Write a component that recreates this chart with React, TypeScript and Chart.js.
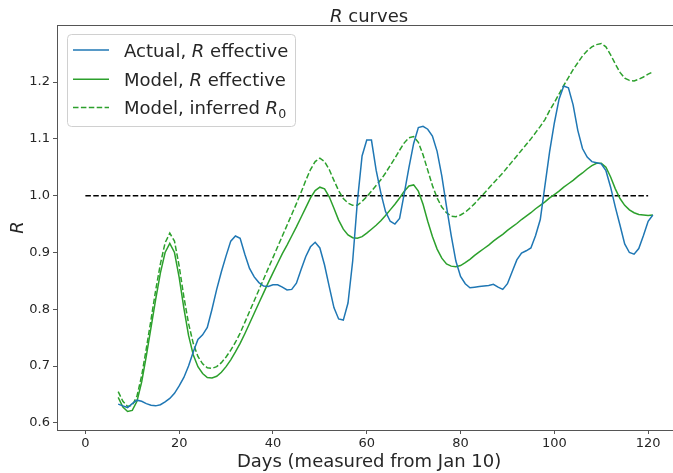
import React, { useEffect, useRef } from 'react';
import { Chart, registerables } from 'chart.js';

Chart.register(...registerables);

const FONT = '"DejaVu Sans", "Liberation Sans", sans-serif';

const days = [
  7, 8, 9, 10, 11, 12, 13, 14, 15, 16, 17, 18, 19, 20, 21, 22, 23, 24, 25, 26,
  27, 28, 29, 30, 31, 32, 33, 34, 35, 36, 37, 38, 39, 40, 41, 42, 43, 44, 45, 46,
  47, 48, 49, 50, 51, 52, 53, 54, 55, 56, 57, 58, 59, 60, 61, 62, 63, 64, 65, 66,
  67, 68, 69, 70, 71, 72, 73, 74, 75, 76, 77, 78, 79, 80, 81, 82, 83, 84, 85, 86,
  87, 88, 89, 90, 91, 92, 93, 94, 95, 96, 97, 98, 99, 100, 101, 102, 103, 104, 105, 106,
  107, 108, 109, 110, 111, 112, 113, 114, 115, 116, 117, 118, 119, 120, 121,
];

const actualR = [
  0.633, 0.630, 0.627, 0.634, 0.640, 0.638, 0.634, 0.631, 0.630, 0.632, 0.637, 0.643, 0.652, 0.665, 0.680, 0.700, 0.725, 0.747, 0.755, 0.768,
  0.800, 0.835, 0.866, 0.894, 0.920, 0.929, 0.925, 0.897, 0.872, 0.857, 0.847, 0.841, 0.840, 0.843, 0.843, 0.839, 0.834, 0.835, 0.846, 0.870,
  0.893, 0.910, 0.918, 0.908, 0.878, 0.840, 0.803, 0.783, 0.781, 0.811, 0.885, 0.990, 1.070, 1.098, 1.098, 1.045, 1.005, 0.972, 0.955, 0.950,
  0.960, 1.004, 1.050, 1.092, 1.120, 1.122, 1.117, 1.105, 1.078, 1.035, 0.981, 0.930, 0.885, 0.858, 0.845, 0.838, 0.839, 0.840, 0.841, 0.842,
  0.844, 0.839, 0.835, 0.845, 0.866, 0.887, 0.899, 0.903, 0.908, 0.930, 0.958, 1.018, 1.078, 1.128, 1.170, 1.193, 1.190, 1.160, 1.115, 1.083,
  1.068, 1.060, 1.058, 1.056, 1.044, 1.015, 0.980, 0.948, 0.915, 0.900, 0.897, 0.907, 0.930, 0.955, 0.966,
];

const modelR = [
  0.645, 0.628, 0.620, 0.622, 0.638, 0.672, 0.718, 0.768, 0.818, 0.864, 0.900, 0.916, 0.900, 0.856, 0.802, 0.754, 0.720, 0.699, 0.687, 0.680,
  0.679, 0.682, 0.689, 0.699, 0.711, 0.725, 0.740, 0.757, 0.775, 0.793, 0.811, 0.829, 0.847, 0.864, 0.881, 0.898, 0.913, 0.929, 0.945, 0.962,
  0.979, 0.996, 1.009, 1.015, 1.012, 0.998, 0.978, 0.957, 0.941, 0.931, 0.926, 0.925, 0.928, 0.934, 0.941, 0.948, 0.956, 0.965, 0.975, 0.985,
  0.996, 1.008, 1.017, 1.019, 1.008, 0.985, 0.955, 0.928, 0.906, 0.890, 0.880, 0.876, 0.875, 0.877, 0.882, 0.888, 0.895, 0.901, 0.907, 0.913,
  0.920, 0.926, 0.932, 0.939, 0.945, 0.951, 0.958, 0.964, 0.970, 0.977, 0.983, 0.989, 0.996, 1.002, 1.008, 1.015, 1.021, 1.027, 1.034, 1.040,
  1.047, 1.053, 1.057, 1.057, 1.050, 1.033, 1.012, 0.995, 0.983, 0.975, 0.970, 0.967, 0.966, 0.965, 0.966,
];

const modelR0 = [
  0.655, 0.638, 0.629, 0.631, 0.647, 0.683, 0.731, 0.782, 0.834, 0.880, 0.917, 0.934, 0.920, 0.876, 0.822, 0.775, 0.740, 0.717, 0.704, 0.697,
  0.696, 0.699, 0.706, 0.716, 0.728, 0.742, 0.758, 0.777, 0.796, 0.815, 0.834, 0.853, 0.872, 0.891, 0.910, 0.929, 0.948, 0.967, 0.986, 1.006,
  1.027, 1.046, 1.060, 1.066, 1.060, 1.046, 1.027, 1.009, 0.995, 0.987, 0.983, 0.983, 0.990, 0.998, 1.008, 1.018, 1.028, 1.040, 1.053, 1.066,
  1.080, 1.093, 1.102, 1.104, 1.094, 1.072, 1.045, 1.018, 0.996, 0.980, 0.970, 0.964, 0.963, 0.966, 0.971, 0.978, 0.986, 0.995, 1.004, 1.013,
  1.022, 1.031, 1.040, 1.050, 1.060, 1.070, 1.080, 1.090, 1.100, 1.111, 1.122, 1.134, 1.150, 1.164, 1.179, 1.194, 1.208, 1.222, 1.234, 1.246,
  1.255, 1.262, 1.266, 1.268, 1.262, 1.248, 1.232, 1.217, 1.207, 1.203, 1.202, 1.205, 1.209, 1.214, 1.218,
];

const refDays = [0, 120];
const refValues = [1.0, 1.0];

const xTicks = [0, 20, 40, 60, 80, 100, 120];
const yTicks = [0.6, 0.7, 0.8, 0.9, 1.0, 1.1, 1.2];

const X_MIN = -6.05;
const X_MAX_VISIBLE = 125.3;
const X_CENTER = 60.5;
const Y_MIN = 0.5875;
const Y_MAX = 1.3005;

const BLUE = '#1f77b4';
const GREEN = '#2ca02c';
const SPINE = '#555555';
const TEXT = '#262626';

type Run = { t: string; italic?: boolean; size: number; dy?: number };

function runsWidth(ctx: CanvasRenderingContext2D, runs: Run[]) {
  let w = 0;
  for (const r of runs) {
    ctx.font = `${r.italic ? 'italic ' : ''}${r.size}px ${FONT}`;
    w += ctx.measureText(r.t).width;
  }
  return w;
}

function drawRuns(ctx: CanvasRenderingContext2D, runs: Run[], x: number, y: number) {
  let cx = x;
  ctx.textAlign = 'left';
  ctx.textBaseline = 'alphabetic';
  for (const r of runs) {
    ctx.font = `${r.italic ? 'italic ' : ''}${r.size}px ${FONT}`;
    ctx.fillText(r.t, cx, y + (r.dy || 0));
    cx += ctx.measureText(r.t).width;
  }
}

const decorPlugin = {
  id: 'decor',
  afterDraw(chart: any) {
    const ctx: CanvasRenderingContext2D = chart.ctx;
    const a = chart.chartArea;
    const xs = chart.scales.x;
    ctx.save();

    // top spine
    ctx.strokeStyle = SPINE;
    ctx.lineWidth = 1;
    ctx.beginPath();
    ctx.moveTo(a.left, a.top + 0.5);
    ctx.lineTo(a.right, a.top + 0.5);
    ctx.stroke();

    ctx.fillStyle = TEXT;
    const cx = xs.getPixelForValue(X_CENTER);

    // title
    const title: Run[] = [
      { t: 'R', italic: true, size: 18 },
      { t: ' curves', size: 18 },
    ];
    drawRuns(ctx, title, cx - runsWidth(ctx, title) / 2, a.top - 3);

    // x label
    const xl: Run[] = [{ t: 'Days (measured from Jan 10)', size: 18 }];
    drawRuns(ctx, xl, cx - runsWidth(ctx, xl) / 2, 467);

    // y label
    ctx.save();
    ctx.translate(23, (a.top + a.bottom) / 2);
    ctx.rotate(-Math.PI / 2);
    ctx.font = `italic 18px ${FONT}`;
    ctx.textAlign = 'center';
    ctx.textBaseline = 'alphabetic';
    ctx.fillText('R', 0, 0);
    ctx.restore();

    // legend
    const lx = a.left + 10;
    const ly = a.top + 9;
    const lw = 228;
    const lh = 92;
    ctx.beginPath();
    ctx.roundRect(lx + 0.5, ly + 0.5, lw, lh, 4);
    ctx.fillStyle = 'rgba(255,255,255,0.8)';
    ctx.fill();
    ctx.strokeStyle = '#d0d0d0';
    ctx.lineWidth = 1;
    ctx.stroke();

    const rows: { color: string; dash: number[]; runs: Run[]; y: number }[] = [
      {
        color: BLUE,
        dash: [],
        y: 50,
        runs: [
          { t: 'Actual, ', size: 18 },
          { t: 'R', italic: true, size: 18 },
          { t: ' effective', size: 18 },
        ],
      },
      {
        color: GREEN,
        dash: [],
        y: 79.3,
        runs: [
          { t: 'Model, ', size: 18 },
          { t: 'R', italic: true, size: 18 },
          { t: ' effective', size: 18 },
        ],
      },
      {
        color: GREEN,
        dash: [5.5, 2.4],
        y: 107.5,
        runs: [
          { t: 'Model, inferred ', size: 18 },
          { t: 'R', italic: true, size: 18 },
          { t: '0', size: 12.6, dy: 3.5 },
        ],
      },
    ];
    for (const r of rows) {
      ctx.beginPath();
      ctx.setLineDash(r.dash);
      ctx.strokeStyle = r.color;
      ctx.lineWidth = 1.5;
      ctx.moveTo(lx + 6, r.y);
      ctx.lineTo(lx + 42, r.y);
      ctx.stroke();
      ctx.setLineDash([]);
      ctx.fillStyle = TEXT;
      drawRuns(ctx, r.runs, lx + 57, r.y + 6.8);
    }

    ctx.restore();
  },
};

const zip = (xs: number[], ys: number[]) => xs.map((x, i) => ({ x, y: ys[i] }));

export default function App() {
  const ref = useRef<HTMLCanvasElement | null>(null);

  useEffect(() => {
    if (!ref.current) return;
    const chart = new Chart(ref.current, {
      type: 'line',
      data: {
        datasets: [
          {
            label: 'Actual, R effective',
            data: zip(days, actualR),
            borderColor: BLUE,
            borderWidth: 1.5,
            pointRadius: 0,
            tension: 0,
            fill: false,
          },
          {
            label: 'Model, R effective',
            data: zip(days, modelR),
            borderColor: GREEN,
            borderWidth: 1.5,
            pointRadius: 0,
            tension: 0,
            fill: false,
          },
          {
            label: 'Model, inferred R0',
            data: zip(days, modelR0),
            borderColor: GREEN,
            borderWidth: 1.5,
            borderDash: [5.5, 2.4],
            pointRadius: 0,
            tension: 0,
            fill: false,
          },
          {
            label: 'R = 1',
            data: zip(refDays, refValues),
            borderColor: '#000000',
            borderWidth: 1.5,
            borderDash: [5.5, 2.4],
            pointRadius: 0,
            tension: 0,
            fill: false,
          },
        ],
      },
      options: {
        animation: false,
        responsive: true,
        maintainAspectRatio: false,
        devicePixelRatio: 1,
        layout: { padding: { top: 25, left: 0, right: 0, bottom: 0 } },
        plugins: {
          legend: { display: false },
          title: { display: false },
          tooltip: { enabled: false },
        },
        scales: {
          x: {
            type: 'linear',
            min: X_MIN,
            max: X_MAX_VISIBLE,
            afterBuildTicks: (s: any) => {
              s.ticks = xTicks.map((v) => ({ value: v }));
            },
            afterFit: (s: any) => {
              s.height = 43;
            },
            grid: {
              display: true,
              drawOnChartArea: false,
              drawTicks: true,
              tickLength: 4,
              color: SPINE,
              lineWidth: 1,
            },
            border: { display: true, color: SPINE, width: 1 },
            ticks: {
              font: { family: FONT, size: 13 },
              color: TEXT,
              padding: 2,
              maxRotation: 0,
              autoSkip: false,
              callback: (v: any) => String(v),
            },
          },
          y: {
            type: 'linear',
            min: Y_MIN,
            max: Y_MAX,
            afterBuildTicks: (s: any) => {
              s.ticks = yTicks.map((v) => ({ value: v }));
            },
            afterFit: (s: any) => {
              s.width = 57;
            },
            grid: {
              display: true,
              drawOnChartArea: false,
              drawTicks: true,
              tickLength: 4,
              color: SPINE,
              lineWidth: 1,
            },
            border: { display: true, color: SPINE, width: 1 },
            ticks: {
              font: { family: FONT, size: 13 },
              color: TEXT,
              padding: 3,
              autoSkip: false,
              callback: (v: any) => Number(v).toFixed(1),
            },
          },
        },
      },
      plugins: [decorPlugin],
    } as any);
    return () => chart.destroy();
  }, []);

  return (
    <div style={{ position: 'fixed', left: 0, top: 0, width: 673, height: 473, background: '#ffffff' }}>
      <canvas ref={ref} />
    </div>
  );
}
